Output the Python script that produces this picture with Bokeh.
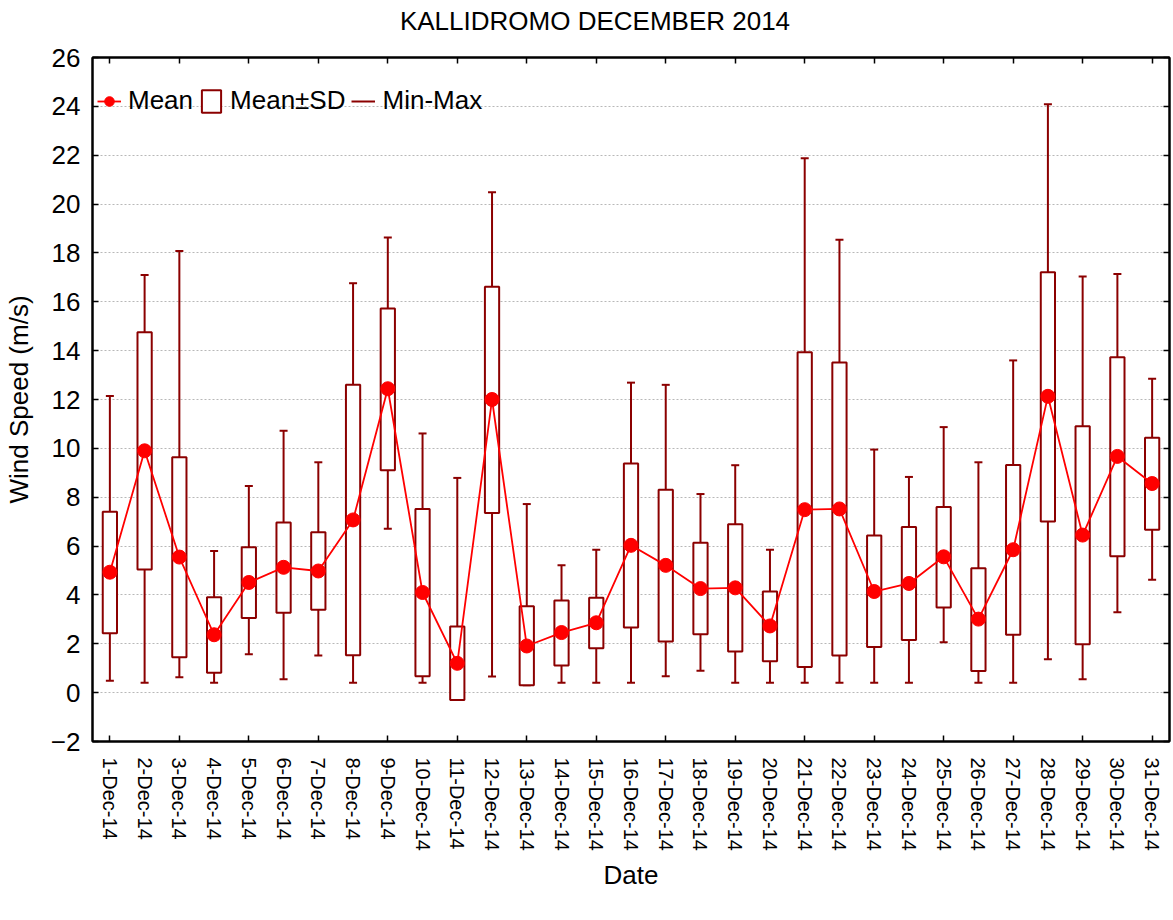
from bokeh.plotting import figure
from bokeh.layouts import column
from bokeh.models import (FixedTicker, LinearAxis, Range1d, Legend, LegendItem,
                          ColumnDataSource, CustomLabelingPolicy, Label)
from bokeh.embed import file_html
from bokeh.resources import INLINE

# ---------------- data ----------------
days = [1, 2, 3, 4, 5, 6, 7, 8, 9, 10, 11, 12, 13, 14, 15, 16,
        17, 18, 19, 20, 21, 22, 23, 24, 25, 26, 27, 28, 29, 30, 31]
day_labels = ["1-Dec-14", "2-Dec-14", "3-Dec-14", "4-Dec-14", "5-Dec-14",
              "6-Dec-14", "7-Dec-14", "8-Dec-14", "9-Dec-14", "10-Dec-14",
              "11-Dec-14", "12-Dec-14", "13-Dec-14", "14-Dec-14", "15-Dec-14",
              "16-Dec-14", "17-Dec-14", "18-Dec-14", "19-Dec-14", "20-Dec-14",
              "21-Dec-14", "22-Dec-14", "23-Dec-14", "24-Dec-14", "25-Dec-14",
              "26-Dec-14", "27-Dec-14", "28-Dec-14", "29-Dec-14", "30-Dec-14",
              "31-Dec-14"]
mean = [4.93, 9.90, 5.55, 2.37, 4.51, 5.13, 4.98, 7.07, 12.44, 4.10, 1.20,
        12.00, 1.91, 2.46, 2.86, 6.03, 5.21, 4.26, 4.29, 2.73, 7.49, 7.52,
        4.14, 4.47, 5.56, 3.01, 5.85, 12.13, 6.45, 9.67, 8.56]
sd_high = [7.41, 14.75, 9.64, 3.91, 5.95, 6.97, 6.57, 12.60, 15.73, 7.52, 2.71,
           16.62, 3.54, 3.77, 3.88, 9.38, 8.31, 6.14, 6.89, 4.14, 13.93, 13.51,
           6.43, 6.78, 7.60, 5.09, 9.32, 17.21, 10.91, 13.73, 10.43]
sd_low = [2.43, 5.04, 1.45, 0.81, 3.06, 3.27, 3.39, 1.53, 9.10, 0.67, -0.30,
          7.35, 0.30, 1.11, 1.82, 2.67, 2.09, 2.39, 1.68, 1.29, 1.05, 1.52,
          1.87, 2.15, 3.49, 0.89, 2.37, 7.01, 1.98, 5.58, 6.67]
max_vals = [12.14, 17.10, 18.08, 5.80, 8.46, 10.72, 9.43, 16.76, 18.63, 10.61,
            8.79, 20.48, 7.72, 5.21, 5.85, 12.69, 12.60, 8.13, 9.31, 5.85,
            21.88, 18.54, 9.95, 8.83, 10.87, 9.43, 13.60, 24.09, 17.03, 17.14,
            12.85]
min_vals = [0.49, 0.41, 0.63, 0.41, 1.57, 0.55, 1.52, 0.41, 6.71, 0.41, 0.40,
            0.66, 0.30, 0.41, 0.41, 0.41, 0.67, 0.90, 0.41, 0.41, 0.41, 0.41,
            0.41, 0.41, 2.06, 0.41, 0.41, 1.37, 0.55, 3.29, 4.62]
y_ticks = [-2, 0, 2, 4, 6, 8, 10, 12, 14, 16, 18, 20, 22, 24, 26]
odd_days = [1, 3, 5, 7, 9, 11, 13, 15, 17, 19, 21, 23, 25, 27, 29, 31]
title_text = "KALLIDROMO DECEMBER 2014"

# ---------------- style ----------------
FONT = "Liberation Sans"
DARK = "#8b0000"
RED = "#ff0000"

src = ColumnDataSource(dict(day=days, mean=mean, hi=sd_high, lo=sd_low,
                            mx=max_vals, mn=min_vals))

# ---- title strip (a small figure holding the chart title) ----
tf = figure(width=1173, height=40, output_backend="svg", toolbar_location=None,
            x_range=Range1d(0, 1), y_range=Range1d(0, 1),
            min_border=0, x_axis_location=None, y_axis_location=None)
tf.grid.visible = False
tf.outline_line_color = None
tf.background_fill_color = "white"
tf.border_fill_color = "white"
tf.add_layout(Label(x=0.5, y=0.5, x_offset=-36, text=title_text,
                    text_align="center", text_baseline="middle",
                    text_font=FONT, text_font_size="26px", text_color="black"))

# ---- main chart ----
p = figure(width=1173, height=880, output_backend="svg", toolbar_location=None,
           x_range=Range1d(0.5, 31.5), y_range=Range1d(-2, 26),
           min_border_left=91, min_border_right=1, min_border_top=17,
           min_border_bottom=179, x_axis_location=None, y_axis_location=None)
p.background_fill_color = "white"
p.border_fill_color = "white"
p.outline_line_color = "black"
p.outline_line_width = 2

no_labels = CustomLabelingPolicy(code="""
const n = indices.size
for (let i = 0; i < n; i++) { indices.unset(i) }
return indices
""")

ytick = FixedTicker(ticks=y_ticks, minor_ticks=[])
left = LinearAxis(ticker=ytick, axis_label="Wind Speed (m/s)")
right = LinearAxis(ticker=ytick)
xtick_odd = FixedTicker(ticks=odd_days, minor_ticks=[])
top = LinearAxis(ticker=xtick_odd)
bottom_ticks = LinearAxis(ticker=xtick_odd)
bottom_labels = LinearAxis(ticker=FixedTicker(ticks=days, minor_ticks=[]),
                           axis_label="Date")
bottom_labels.major_label_overrides = {d: l for d, l in zip(days, day_labels)}

for ax in (left, right, top, bottom_ticks, bottom_labels):
    ax.axis_line_color = "black"
    ax.axis_line_width = 2
    ax.major_tick_line_color = "black"
    ax.major_tick_line_width = 1.5
    ax.major_tick_in = 6
    ax.major_tick_out = 0
    ax.minor_tick_line_color = None
    ax.major_label_text_font = FONT
    ax.major_label_text_color = "black"
    ax.axis_label_text_font = FONT
    ax.axis_label_text_font_style = "normal"
    ax.axis_label_text_font_size = "26px"
    ax.axis_label_text_color = "black"

for ax in (right, top, bottom_ticks):
    ax.major_label_text_font_size = "1px"
    ax.major_label_standoff = 0
    ax.major_label_policy = no_labels

left.major_label_text_font_size = "26px"
left.major_label_standoff = 12
left.axis_label_standoff = 14

bottom_labels.axis_line_color = None
bottom_labels.major_tick_line_color = None
bottom_labels.major_tick_in = 0
bottom_labels.major_label_text_font_size = "20px"
bottom_labels.major_label_orientation = "vertical"
bottom_labels.major_label_standoff = 12
bottom_labels.axis_label_standoff = 6

p.add_layout(left, "left")
p.add_layout(right, "right")
p.add_layout(top, "above")
p.add_layout(bottom_ticks, "below")
p.add_layout(bottom_labels, "below")

p.xgrid.visible = False
p.ygrid.ticker = ytick
p.ygrid.grid_line_color = "#b8b8b8"
p.ygrid.grid_line_dash = "2 2"
p.ygrid.grid_line_width = 1

# ---- glyphs ----
whisk = p.segment(x0="day", y0="mn", x1="day", y1="mx", source=src,
                  line_color=DARK, line_width=2)
caps_hi = p.scatter(x="day", y="mx", source=src, marker="dash", size=8,
                    line_color=DARK, line_width=2)
caps_lo = p.scatter(x="day", y="mn", source=src, marker="dash", size=8,
                    line_color=DARK, line_width=2)
boxes = p.vbar(x="day", bottom="lo", top="hi", width=0.41, source=src,
               fill_color="white", line_color=DARK, line_width=2)
mline = p.line(x="day", y="mean", source=src, line_color=RED, line_width=1.8)
mdots = p.scatter(x="day", y="mean", source=src, marker="circle", size=14,
                  fill_color=RED, line_color=RED)

legend = Legend(items=[LegendItem(label="Mean", renderers=[mline, mdots]),
                       LegendItem(label="Mean±SD", renderers=[boxes]),
                       LegendItem(label="Min-Max", renderers=[whisk])],
                orientation="horizontal", location=(5, 625),
                padding=0, margin=0, spacing=6,
                glyph_width=24, glyph_height=28, label_standoff=7,
                background_fill_alpha=0, border_line_alpha=0,
                label_text_font=FONT, label_text_font_size="26px",
                label_text_color="black")
p.add_layout(legend)

layout = column(tf, p, spacing=0)
open("out.html", "w").write(file_html(layout, INLINE))
